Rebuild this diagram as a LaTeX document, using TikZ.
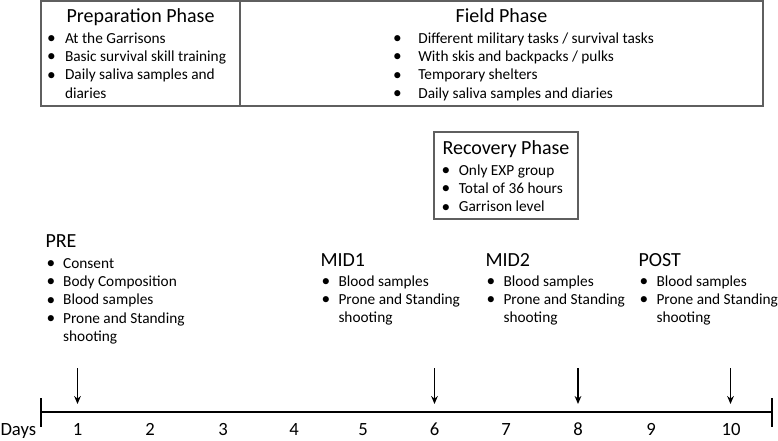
\documentclass[tikz,border=0pt]{standalone}
\usepackage{fontspec}
\setmainfont{Carlito}
\usetikzlibrary{arrows.meta}
\tikzset{every picture/.style={line width=0.75pt}}
\newcommand{\blist}[2]{\begin{tabular}[t]{@{}p{#1}@{}l@{}}#2\end{tabular}}
\newcommand{\bul}{\raisebox{-0.3pt}{\fontsize{13}{13}\selectfont\textbullet}}

\begin{document}
\begin{tikzpicture}[x=0.75pt,y=0.75pt,yscale=-1,xscale=1,
	phasetitle/.style={font=\fontsize{15}{18}\selectfont},
	itemtext/.style={font=\fontsize{11.5}{13.75}\selectfont},
	daylabel/.style={font=\fontsize{14}{17}\selectfont},
	boxline/.style={color={rgb, 255:red, 95; green, 95; blue, 95 }, line width=1.3}]
		\useasboundingbox (0,0) rectangle (778,440);
		
		%phase boxes
		\draw [boxline] (41,1) rectangle (763,106) ;
		\draw [boxline] (240,1) -- (240,106) ;
		\draw [boxline] (434,132) rectangle (578,219) ;
		
		\draw (140.5,22) node (prepTitle) [anchor=base][inner sep=0.75pt] [phasetitle] {Preparation Phase};
		\draw (46.5,43) node (prepList) [anchor=base west][inner sep=0pt] [itemtext] {\blist{13.5pt}{\bul & At the Garrisons\\ \bul & Basic survival skill training\\ \bul & Daily saliva samples and\\ & diaries}};
		\draw (501.5,22) node (fieldTitle) [anchor=base][inner sep=0.75pt] [phasetitle] {Field Phase};
		\draw (392.5,43) node (fieldList) [anchor=base west][inner sep=0pt] [itemtext] {\blist{19pt}{\bul & Different military tasks / survival tasks\\ \bul & With skis and backpacks / pulks\\ \bul & Temporary shelters\\ \bul & Daily saliva samples and diaries}};
		\draw (506,154) node (recTitle) [anchor=base][inner sep=0.75pt] [phasetitle] {Recovery Phase};
		\draw (441,175) node (recList) [anchor=base west][inner sep=0pt] [itemtext] {\blist{13pt}{\bul & Only EXP group\\ \bul & Total of 36 hours\\ \bul & Garrison level}};
		
		%test points
		\draw (44,247) node (pre) [anchor=base west][inner sep=0.75pt] [phasetitle] {PRE};
		\draw (46,268) node (preList) [anchor=base west][inner sep=0pt] [itemtext] {\blist{12.5pt}{\bul & Consent\\ \bul & Body Composition\\ \bul & Blood samples\\ \bul & Prone and Standing\\ & shooting}};
		\foreach \name/\lbl/\x in {midone/MID1/319, midtwo/MID2/484, post/POST/637}{
			\draw (\x,266) node (\name) [anchor=base west][inner sep=0.75pt] [phasetitle] {\lbl};
			\draw (\x+2,286) node (\name List) [anchor=base west][inner sep=0pt] [itemtext] {\blist{12.75pt}{\bul & Blood samples\\ \bul & Prone and Standing\\ & shooting}};
		}
		
		%time line
		\coordinate (dayStart) at (41,412);
		\coordinate (dayEnd) at (772,412);
		\draw [line width=1.8] (dayStart) -- (dayEnd) ;
		\draw [line width=1.8] (41,398) -- (41,427) (772,398) -- (772,427) ;
		\draw (-1,435) node (days) [anchor=base west][inner sep=0.75pt] [daylabel] {Days};
		\foreach \d/\x in {1/77.5,2/150,3/223,4/294,5/363,6/434.5,7/506,8/578,9/651,10/731}{
			\draw (\x,435) node (d\d) [anchor=base][inner sep=0.75pt] [daylabel] {\d};
		}
		\foreach \d/\x in {1/77.5,6/434.5,8/578,10/730.5}{
			\coordinate (from\d) at (\x,368);
			\coordinate (to\d) at (\x,404);
			\draw [line width=1.4, -{Stealth[length=6pt,width=5pt]}] (from\d) -- (to\d) ;
		}
		
	\end{tikzpicture}
\end{document}
